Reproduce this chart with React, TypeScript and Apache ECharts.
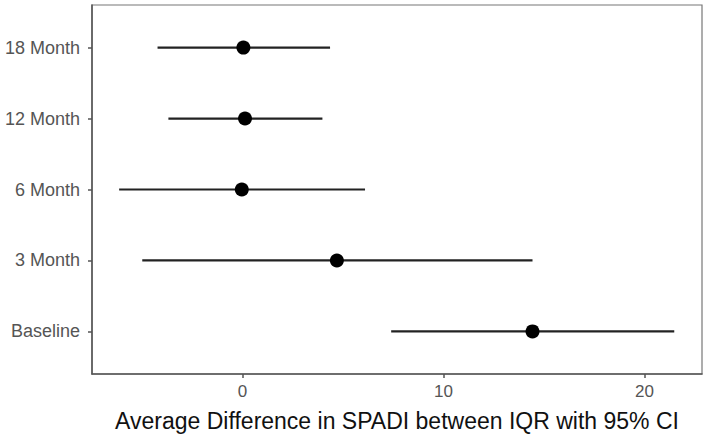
import React, { useEffect, useRef } from "react";
import * as echarts from "echarts";

const categories = ["Baseline", "3 Month", "6 Month", "12 Month", "18 Month"];
const estimates = [14.43, 4.7, -0.03, 0.13, 0.05];
const lowerCI = [7.4, -4.98, -6.13, -3.68, -4.22];
const upperCI = [21.48, 14.43, 6.1, 3.98, 4.36];
const xTicks = [0, 10, 20];
const yTicks = [1, 2, 3, 4, 5];

const FONT = "Liberation Sans, Arial, sans-serif";
const GRID = { left: 92, top: 5, right: 6, bottom: 63 };
const W = 708;
const H = 437;

export default function App() {
  const ref = useRef<HTMLDivElement>(null);
  useEffect(() => {
    if (!ref.current) return;
    const chart = echarts.init(ref.current, null, { renderer: "svg" });
    const ciData = categories.map((_, i) => [lowerCI[i], upperCI[i], i + 1]);
    const ptData = categories.map((_, i) => [estimates[i], i + 1]);
    chart.setOption({
      animation: false,
      backgroundColor: "#ffffff",
      grid: { ...GRID, show: true, borderColor: "#777", borderWidth: 1.2, backgroundColor: "transparent" },
      xAxis: {
        type: "value",
        min: -7.48,
        max: 22.86,
        name: "Average Difference in SPADI between IQR with 95% CI",
        nameLocation: "middle",
        nameGap: 35,
        nameTextStyle: { color: "#111", fontSize: 23, fontFamily: FONT },
        splitLine: { show: false },
        axisLine: { show: true, onZero: false, lineStyle: { color: "#555", width: 1.5 } },
        axisTick: { show: true, length: 4, customValues: xTicks, lineStyle: { color: "#555", width: 1.5 } },
        axisLabel: {
          customValues: xTicks,
          color: "#555",
          fontSize: 17,
          margin: 9,
          fontFamily: FONT,
        },
      },
      yAxis: {
        type: "value",
        min: 0.4,
        max: 5.6,
        splitLine: { show: false },
        axisLine: { show: true, onZero: false, lineStyle: { color: "#555", width: 1.5 } },
        axisTick: { show: true, length: 4, customValues: yTicks, lineStyle: { color: "#555", width: 1.5 } },
        axisLabel: {
          customValues: yTicks,
          color: "#555",
          fontSize: 18,
          margin: 12,
          fontFamily: FONT,
          formatter: (v: number) => categories[Math.round(v) - 1] ?? "",
        },
      },
      series: [
        {
          type: "custom",
          data: ciData,
          encode: { x: [0, 1], y: 2 },
          renderItem: (params: any, api: any) => {
            const p1 = api.coord([api.value(0), api.value(2)]);
            const p2 = api.coord([api.value(1), api.value(2)]);
            return {
              type: "line",
              shape: { x1: p1[0], y1: p1[1], x2: p2[0], y2: p2[1] },
              style: { stroke: "#222", lineWidth: 2.2 },
            };
          },
          z: 2,
        },
        {
          type: "scatter",
          data: ptData,
          symbol: "circle",
          symbolSize: 14,
          itemStyle: { color: "#000", opacity: 1 },
          z: 3,
        },
      ],
    });
    return () => chart.dispose();
  }, []);
  return (
    <div
      ref={ref}
      style={{ position: "absolute", left: 0, top: 0, width: W, height: H }}
    />
  );
}
